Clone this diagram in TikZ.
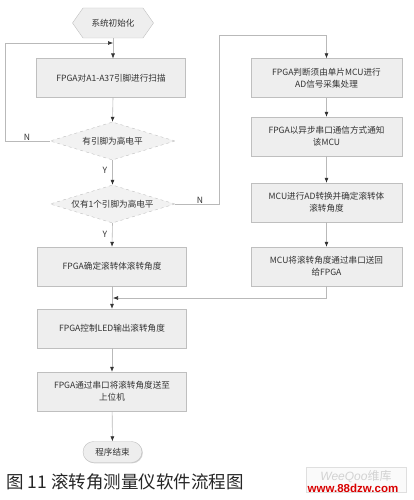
\documentclass[tikz,border=0pt]{standalone}
\usepackage{fontspec}
\setmainfont{Noto Sans CJK SC}
\newfontfamily\wmfont{Liberation Sans}
\newfontfamily\cjkfont{Noto Sans CJK SC}
\usetikzlibrary{shapes.geometric,shapes.symbols,shapes.misc,arrows.meta,shadows}
\newcommand\boxfont{\fontsize{8.6}{12}\selectfont}
\begin{document}
\begin{tikzpicture}[x=1pt,y=-1pt,
  every node/.style={text=black!80},
  shd/.style={drop shadow={shadow xshift=0.8pt, shadow yshift=-0.8pt, fill=gray!45, opacity=0.8}},
  box/.style={draw=gray!50, fill=gray!13, shd, minimum width=149pt, minimum height=39pt, inner sep=1pt, align=center, text width=140pt, font=\boxfont},
  rbox/.style={box, minimum width=151pt},
  dec/.style={diamond, draw=gray!50, dashed, fill=gray!10, minimum width=125pt, minimum height=38pt, aspect=3.3, inner sep=0pt, font=\boxfont},
  startnode/.style={signal, signal to=west and east, signal pointer angle=110, draw=gray!50, fill=gray!13, minimum width=81pt, minimum height=30pt, inner sep=1pt, font=\boxfont},
  endnode/.style={rounded rectangle, draw=gray!50, fill=gray!13, shd, minimum width=61pt, minimum height=21pt, inner sep=1pt, font=\boxfont},
  line/.style={draw=gray!55, line width=0.6pt},
  arr/.style={line, -{Latex[length=5pt,width=4pt,color=black!80]}},
  lab/.style={font=\boxfont}
]
\useasboundingbox (0,0) rectangle (413,500);
% left column
\node[startnode] (start) at (113,23) {系统初始化};
\node[box] (scan) at (111,78) {FPGA对A1-A37引脚进行扫描};
\node[dec] (d1) at (112.5,141) {有引脚为高电平};
\node[dec] (d2) at (112.5,204) {仅有1个引脚为高电平};
\node[box] (fix) at (112,266.5) {FPGA确定滚转体滚转角度};
\node[box] (led) at (112,328.5) {FPGA控制LED输出滚转角度};
\node[box] (send) at (112,391.5) {FPGA通过串口将滚转角度送至\\上位机};
\node[endnode] (stop) at (112.5,452) {程序结束};
% right column
\node[rbox] (r1) at (326.5,78) {FPGA判断须由单片MCU进行\\AD信号采集处理};
\node[rbox] (r2) at (326.5,136.5) {FPGA以异步串口通信方式通知\\该MCU};
\node[rbox] (r3) at (326.5,202.5) {MCU进行AD转换并确定滚转体\\滚转角度};
\node[rbox] (r4) at (326.5,266.5) {MCU将滚转角度通过串口送回\\给FPGA};
% coordinates
\coordinate (lj) at (113,43);
\coordinate (lc1) at (5,141);
\coordinate (lc2) at (5,43);
\coordinate (rc1) at (219,204);
\coordinate (rc2) at (219,35);
\coordinate (rc3) at (326.5,35);
\coordinate (bc1) at (326.5,298);
\coordinate (bj) at (113,298);
% connectors
\draw[arr] (start.south) -- (113,58.5);
\draw[arr] (113,97.5) -- (d1.north);
\draw[arr] (d1.west) -- (lc1) -- (lc2) -- (lj);
\draw[arr] (d1.south) -- (d2.north);
\draw[arr] (d2.south) -- (fix.north);
\draw[arr] (d2.east) -- (rc1) -- (rc2) -- (rc3) -- (r1.north);
\draw[arr] (r1) -- (r2);
\draw[arr] (r2) -- (r3);
\draw[arr] (r3) -- (r4);
\draw[arr] (r4.south) -- (bc1) -- (bj);
\draw[arr] (fix.south) -- (led.north);
\draw[arr] (led) -- (send);
\draw[arr] (send) -- (stop);
% labels
\node[lab] (n1) at (27,137) {N};
\node[lab] (y1) at (105,170) {Y};
\node[lab] (y2) at (105,234) {Y};
\node[lab] (n2) at (200,200) {N};
% caption
\node[anchor=west, font=\fontsize{17.5}{20}\selectfont, text=black!85] (cap) at (3,482) {图 11 滚转角测量仪软件流程图};
% watermark
\node[draw=gray!25, fill=gray!4, minimum width=100pt, minimum height=25pt] (wq) at (356.5,479.5) {};
\node[text=gray!35, font=\fontsize{12}{13}\selectfont, anchor=north] (wqt) at (356,467) {{\wmfont\itshape WeeQoo}\cjkfont 维库};
\node[text=red!85!black, font=\wmfont\bfseries\fontsize{11.5}{12}\selectfont] (wm) at (353,488) {www.88dzw.com};
\end{tikzpicture}
\end{document}
